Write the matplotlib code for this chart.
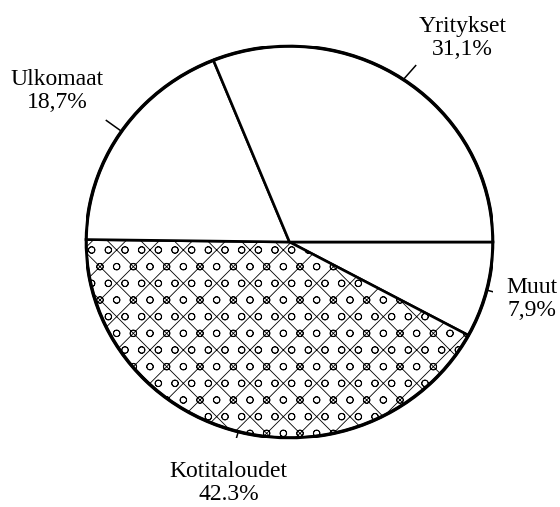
import matplotlib.pyplot as plt
import numpy as np

plt.rcParams['font.family'] = ['Liberation Serif', 'DejaVu Serif']
plt.rcParams['hatch.color'] = '#a0a0a0'
plt.rcParams['hatch.linewidth'] = 0.6

nimet = ["Muut", "Kotitaloudet", "Ulkomaat", "Yritykset"]
osuudet = [7.9, 42.3, 18.7, 31.1]
tekstit = ["7,9%", "42.3%", "18,7%", "31,1%"]
# tekstin paikka (x, y) akselin yksiköissä, ympyrän säde = 1
paikat = [(1.19, -0.29), (-0.30, -1.23), (-1.14, 0.77), (0.85, 1.04)]
# viivojen ulkopäät
viivat = [(1.06, -0.27), (-0.28, -1.07), (-0.90, 0.62), (0.62, 0.90)]

fig = plt.figure(figsize=(5.6, 5.07), dpi=100)
ax = fig.add_axes([86 / 560, 69 / 507, 407 / 560, 392 / 507])

wedges, _ = ax.pie(osuudet, startangle=0, counterclock=False, radius=1,
                   colors=["white"] * 4,
                   wedgeprops=dict(edgecolor="black", linewidth=1.9))
wedges[1].set_hatch("xo")

# ulkoreuna paksummalla viivalla
ympyra = plt.Circle((0, 0), 1, fill=False, edgecolor="black", linewidth=2.5)
ax.add_patch(ympyra)

for w, nimi, teksti, (tx, ty), (vx, vy) in zip(wedges, nimet, tekstit, paikat, viivat):
    kulma = np.deg2rad((w.theta1 + w.theta2) / 2)
    ax.plot([np.cos(kulma), vx], [np.sin(kulma), vy], color="black", linewidth=1.1)
    ax.text(tx, ty, nimi + "\n" + teksti, ha="center", va="center",
            fontsize=17, linespacing=1.15, clip_on=False)

ax.set_xlim(-1, 1)
ax.set_ylim(-1, 1)
ax.set_aspect("auto")
ax.axis("off")

plt.savefig("out.png", dpi=100)
